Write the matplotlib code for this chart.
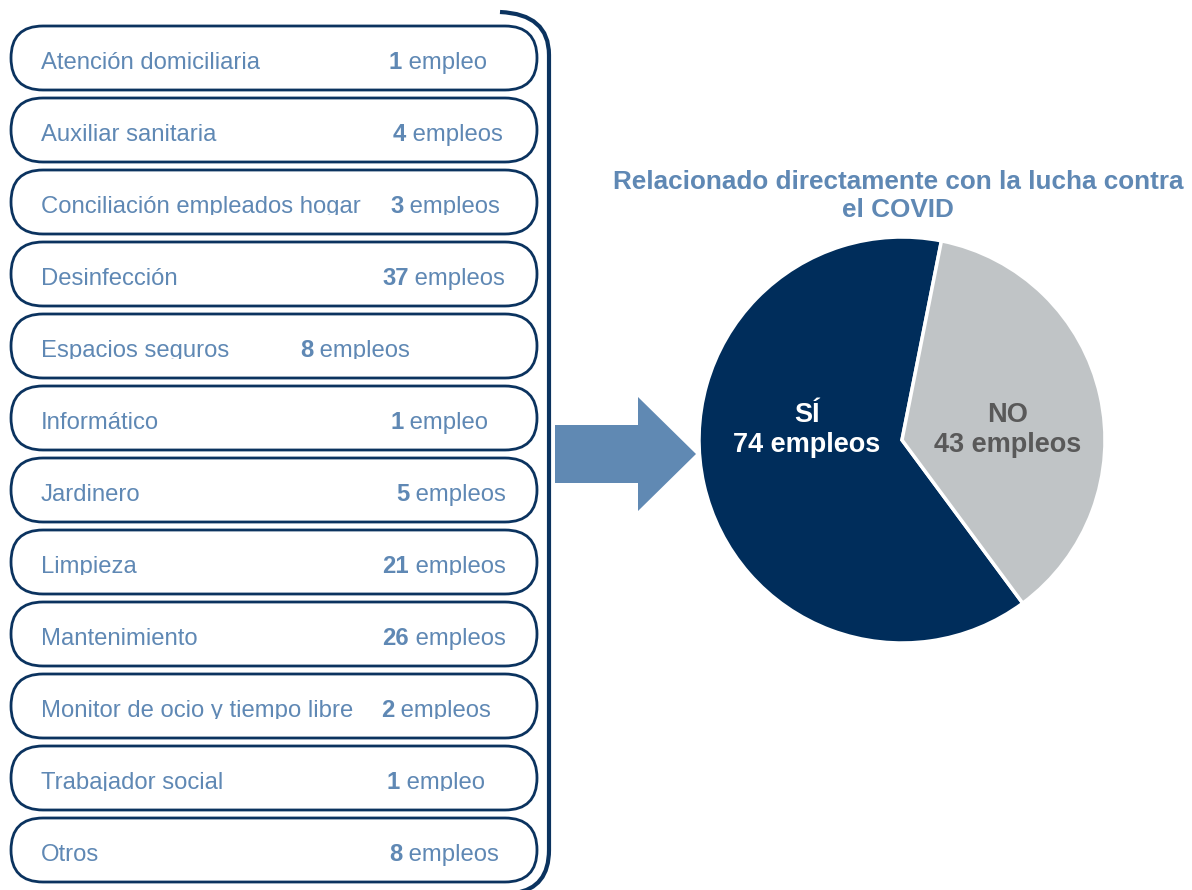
import matplotlib
matplotlib.use("Agg")
import matplotlib.pyplot as plt
from matplotlib.patches import FancyBboxPatch, Polygon, PathPatch, Rectangle
from matplotlib.path import Path

# ---- data ----
categories = ["Atención domiciliaria", "Auxiliar sanitaria", "Conciliación empleados hogar",
              "Desinfección", "Espacios seguros", "Informático", "Jardinero", "Limpieza",
              "Mantenimiento", "Monitor de ocio y tiempo libre", "Trabajador social", "Otros"]
counts = [1, 4, 3, 37, 8, 1, 5, 21, 26, 2, 1, 8]
pie_labels = ["SÍ", "NO"]
pie_values = [74, 43]
title_lines = ["Relacionado directamente con la lucha contra", "el COVID"]

# ---- layout (pixels) ----
count_x = [389, 393, 390, 382, 300, 390, 396, 382, 382, 381, 387, 389]
clipped_rows = {2, 4, 7, 9, 10}

W, H = 1192, 890
DPI = 100
NAVY = "#0B335F"
LBLUE = "#5F88B4"
PIE_NAVY = "#002D5B"
PIE_GREY = "#C0C4C6"
FS = 17.2

plt.rcParams['font.family'] = ['Liberation Sans', 'DejaVu Sans']

fig = plt.figure(figsize=(W / DPI, H / DPI), dpi=DPI)
ax = fig.add_axes([0, 0, 1, 1])
ax.set_xlim(0, W)
ax.set_ylim(0, H)
ax.set_aspect('equal')
ax.axis('off')

def Y(y):
    return H - y

renderer = fig.canvas.get_renderer()

box_top0, box_h, box_step = 26, 64, 72
for i, (cat, n) in enumerate(zip(categories, counts)):
    top = box_top0 + i * box_step
    patch = FancyBboxPatch((11, Y(top + box_h)), 526, box_h,
                           boxstyle=f"round,pad=0,rounding_size={box_h/2}",
                           fc="white", ec=NAVY, lw=2.0)
    ax.add_patch(patch)
    bl = Y(top + 43)
    texts = []
    texts.append(ax.text(41, bl, cat, fontsize=FS, color=LBLUE, va='baseline', ha='left'))
    t = ax.text(count_x[i], bl, str(n), fontsize=FS, color=LBLUE, va='baseline',
                ha='left', fontweight='bold')
    texts.append(t)
    bb = t.get_window_extent(renderer)
    word = " empleo" if n == 1 else " empleos"
    texts.append(ax.text(bb.x1, bl, word, fontsize=FS, color=LBLUE, va='baseline', ha='left'))
    if i in clipped_rows:
        clip = Rectangle((0, Y(top + 45)), 600, 60, transform=ax.transData)
        for tt in texts:
            tt.set_clip_on(True)
            tt.set_clip_path(clip)

# bracket
verts = [(500, Y(12)), (549, Y(14)), (549, Y(55)),
         (549, Y(850)), (549, Y(888)), (515, Y(893))]
codes = [Path.MOVETO, Path.CURVE3, Path.CURVE3, Path.LINETO, Path.CURVE3, Path.CURVE3]
ax.add_patch(PathPatch(Path(verts, codes), fc='none', ec=NAVY, lw=3.0, capstyle='butt'))

# arrow
arrow = [(555, 425), (638, 425), (638, 397), (696, 454), (638, 511), (638, 483), (555, 483)]
ax.add_patch(Polygon([(x, Y(y)) for x, y in arrow], closed=True, fc="#6089B3", ec='none'))

# pie
cx, cy, r = 902, 440, 203
ax.pie(pie_values, colors=[PIE_NAVY, PIE_GREY], startangle=78.8, center=(cx, Y(cy)),
       radius=r, wedgeprops=dict(edgecolor='white', linewidth=2.5), frame=True)
ax.set_xlim(0, W)
ax.set_ylim(0, H)
ax.axis('off')

for lab, val, x, col in [(pie_labels[0], pie_values[0], 807, 'white'),
                         (pie_labels[1], pie_values[1], 1008, '#595959')]:
    ax.text(x, Y(422), lab, ha='center', va='baseline', fontsize=19.5,
            fontweight='bold', color=col)
    ax.text(x, Y(452), f"{val} empleos", ha='center', va='baseline', fontsize=19.5,
            fontweight='bold', color=col)

for line, yb in zip(title_lines, [189, 217]):
    ax.text(898, Y(yb), line, ha='center', va='baseline', fontsize=18.8,
            fontweight='bold', color=LBLUE)

fig.savefig("out.png", dpi=DPI)
